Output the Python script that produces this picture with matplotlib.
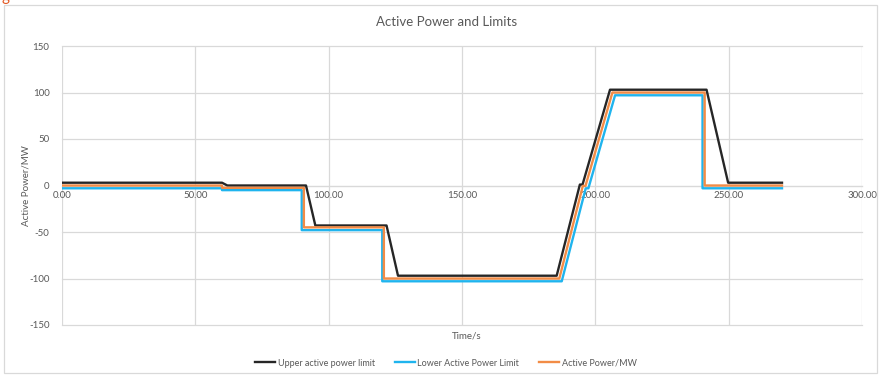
import matplotlib
matplotlib.use("Agg")
import matplotlib.pyplot as plt
from matplotlib.patches import Rectangle

plt.rcParams["font.family"] = ["Lato", "DejaVu Sans"]
plt.rcParams["axes.unicode_minus"] = False

# time (s) / value (MW) breakpoints for each series
upper_t = [0, 60, 62, 91.5, 95, 121.7, 126, 185.5, 194.2, 195.2, 205.5, 241.7, 249.8, 270]
upper_v = [3, 3, 0, 0, -43, -43, -97, -97, 1, 1, 103, 103, 3, 3]

lower_t = [0, 60, 60, 89.9, 89.9, 120.1, 120.1, 187.4, 196.4, 197.4, 207.4, 240.2, 240.2, 270]
lower_v = [-3, -3, -5, -5, -48, -48, -103, -103, -3, -3, 97, 97, -3, -3]

power_t = [0, 60, 60, 90.7, 90.7, 120.7, 120.7, 186.5, 195.3, 196.3, 206.4, 241, 241, 270]
power_v = [0, 0, -2.5, -2.5, -45, -45, -100, -100, -0.5, -0.5, 100, 100, 0, 0]

x_ticks = [0, 50, 100, 150, 200, 250, 300]
y_ticks = [-150, -100, -50, 0, 50, 100, 150]

TXT = "#595959"
GRID = "#d9d9d9"

fig = plt.figure(figsize=(8.8, 3.76), dpi=100)
ax = fig.add_axes([62 / 880, 1 - 325 / 376, 800 / 880, 279 / 376])

ax.plot(upper_t, upper_v, color="#262626", lw=1.7, label="Upper active power limit", zorder=3)
ax.plot(lower_t, lower_v, color="#1fb4ee", lw=1.7, label="Lower Active Power Limit", zorder=3)
ax.plot(power_t, power_v, color="#f28c46", lw=1.7, label="Active Power/MW", zorder=3)

ax.set_xlim(0, 300)
ax.set_ylim(-150, 150)
ax.set_xticks(x_ticks)
ax.set_yticks(y_ticks)
ax.set_xticklabels([f"{v:.2f}" for v in x_ticks])
ax.grid(True, color=GRID, lw=0.9, zorder=0)
for gl in ax.get_xgridlines() + ax.get_ygridlines():
    gl.set_clip_on(False)

for s in ("top", "right", "left"):
    ax.spines[s].set_visible(False)
# x axis crosses at zero, as in a spreadsheet chart
ax.spines["bottom"].set_position(("data", 0))
ax.spines["bottom"].set_color(GRID)
ax.spines["bottom"].set_zorder(1)
ax.tick_params(length=0, labelsize=7, colors=TXT)
ax.tick_params(axis="x", pad=4)
ax.tick_params(axis="y", pad=9)

ax.set_xlabel("Time/s", fontsize=7, color=TXT, labelpad=0)
ax.xaxis.set_label_coords(0.506, -0.025)
ax.set_ylabel("Active Power/MW", fontsize=7, color=TXT)
ax.yaxis.set_label_coords(-0.039, 0.5)

fig.text(447 / 880, 1 - 22 / 376, "Active Power and Limits", ha="center", va="center",
         fontsize=9.5, color=TXT)

fig.legend(loc="center", bbox_to_anchor=(446 / 880, 1 - 363 / 376), ncol=3, frameon=False,
           fontsize=6.5, handlelength=2.2, handletextpad=0.3, columnspacing=2.2,
           labelcolor=TXT)

# chart frame
fig.patches.append(Rectangle((4 / 880, 1 - 373 / 376), 873 / 880, 368 / 376,
                             transform=fig.transFigure, fill=False, ec="#d9d9d9", lw=0.9))
fig.text(2 / 880, 1 + 3 / 376, "g", color="#e2561f", fontsize=11, va="center", ha="left")

fig.savefig("out.png", dpi=100)
